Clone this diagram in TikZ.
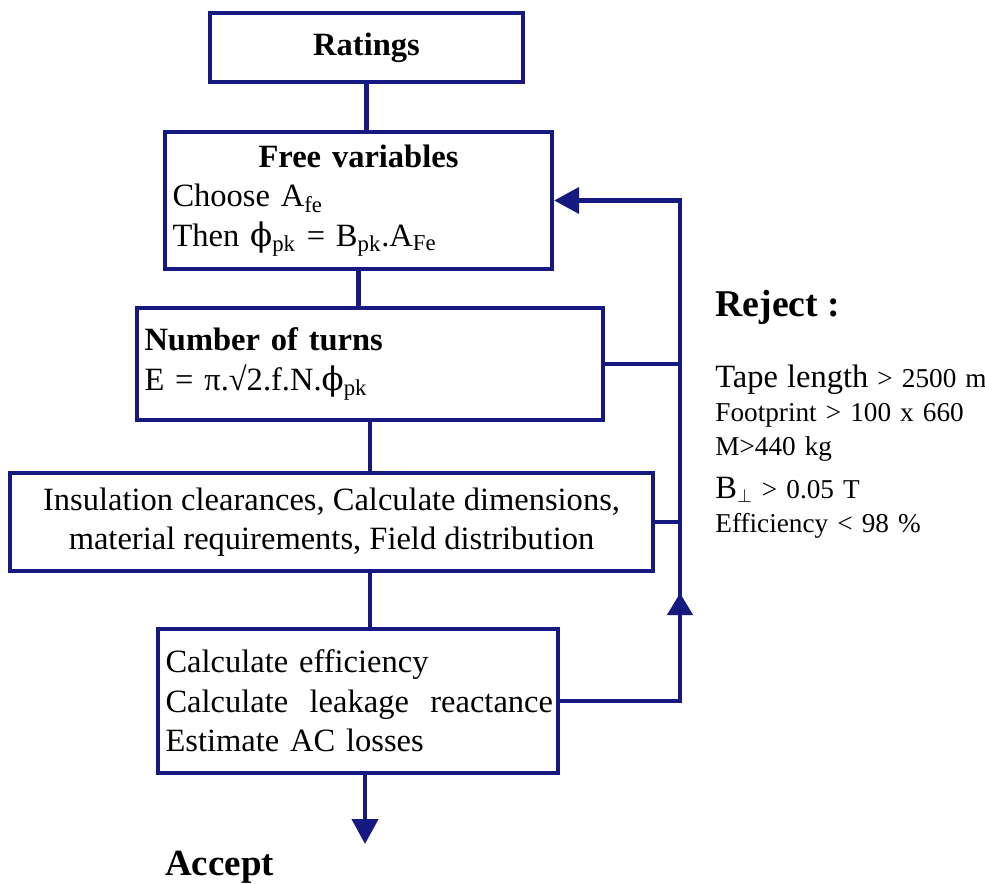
\documentclass[tikz,border=0pt]{standalone}
\usepackage{fontspec}
\setmainfont{Liberation Serif}
\newfontfamily\phifont{DejaVu Serif}
\usetikzlibrary{arrows.meta}
\definecolor{flowblue}{RGB}{22,26,128}
\newcommand{\fluxpk}{{\phifont ϕ}\textsubscript{pk}}

\begin{document}
\begin{tikzpicture}[
        flowbox/.style={draw=flowblue, line width=2.5pt, inner sep=0.15cm, font=\fontsize{18.5}{22.5}\selectfont},
        flowline/.style={flowblue, line width=2.5pt},
        flowtip/.style={-{Triangle[length=0.5cm,width=0.52cm]}}
    ]
        \useasboundingbox (0,0) rectangle (19.7,17.66);

        \node[flowbox, minimum width=6.26cm, minimum height=1.38cm] (ratings) at (7.33,16.71) {\textbf{Ratings}};
        \node[flowbox, minimum width=7.74cm, minimum height=2.74cm, text width=7.44cm, align=left] (free) at (7.17,13.65)
            {\makebox[\linewidth]{\textbf{Free variables}}\\ Choose A\textsubscript{fe}\\ Then \fluxpk{} = B\textsubscript{pk}.A\textsubscript{Fe}};
        \node[flowbox, minimum width=9.32cm, minimum height=2.24cm, text width=9.02cm, align=left] (turns) at (7.40,10.38)
            {\textbf{Number of turns}\\ E = π.√2.f.N.\fluxpk\\[-0.25cm]};
        \node[flowbox, minimum width=12.86cm, minimum height=1.96cm, align=center] (dims) at (6.63,7.22)
            {Insulation clearances, Calculate dimensions,\\ material requirements, Field distribution};
        \node[flowbox, minimum width=8.0cm, minimum height=2.88cm, text width=7.7cm, align=left] (calc) at (7.16,3.64)
            {Calculate efficiency\\ \makebox[7.75cm][l]{Calculate\hfill leakage\hfill reactance}\\ Estimate AC losses};

        % main chain
        \draw[flowline] (ratings.south) -- (ratings.south |- free.north);
        \draw[flowline] (free.south) -- (free.south |- turns.north);
        \draw[flowline] (turns.south) -- (turns.south |- dims.north);
        \draw[flowline] (dims.south -| turns.south) -- (calc.north -| turns.south);

        \coordinate (out) at (7.3,0.78);
        \draw[flowline, flowtip] (calc.south -| out) -- (out);
        \node[anchor=base west, inner sep=0, font=\fontsize{21}{25}\selectfont\bfseries] (accept) at (3.3,0.16) {Accept};

        % reject loop
        \coordinate (back) at (13.6,13.65);
        \coordinate (up) at (13.6,5.8);
        \draw[flowline, flowtip] (calc.east) -| (back) -- (free.east);
        \draw[flowline, -{Triangle[length=0.44cm,width=0.5cm]}] (calc.east -| back) -- (up);
        \draw[flowline] (turns.east) -- (turns.east -| back);
        \draw[flowline] (dims.east) -- (dims.east -| back);

        \node[anchor=base west, inner sep=0, font=\fontsize{21.5}{26}\selectfont\bfseries] (reject) at (14.3,11.32) {Reject :};
        \node[anchor=base west, inner sep=0, text width=6.5cm, align=left, font=\fontsize{15.5}{19.6}\selectfont] (limits) at (14.3,9.92)
            {{\fontsize{18.5}{19.6}\selectfont Tape length} > 2500 m\\ Footprint > 100 x 660\\ M>440 kg\\[4.5pt]
             {\fontsize{18.5}{19.6}\selectfont B}$_\perp$ > 0.05 T\\ Efficiency < 98 \%};
    \end{tikzpicture}
\end{document}
